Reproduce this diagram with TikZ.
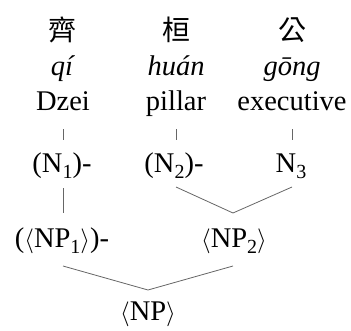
\documentclass[tikz,border=0pt]{standalone}
\usepackage{fontspec}
\setmainfont{Liberation Serif}
\newfontfamily\cjk{Noto Sans CJK TC}
\newcommand\mysub[1]{\raisebox{-0.22em}{\fontsize{20}{20}\selectfont #1}}
\begin{document}
\begin{tikzpicture}[x=1pt,y=-1pt,
  every node/.style={inner sep=0pt,font=\fontsize{28.5}{32}\selectfont},
  lab/.style={anchor=base},
  han/.style={font=\fontsize{28}{30}\selectfont\cjk},
  edge/.style={draw=black!60,line width=0.8pt}]
\useasboundingbox (0,0) rectangle (351,330);
% Chinese characters
\node[han] (c1) at (62,30) {齊};
\node[han] (c2) at (176,30) {桓};
\node[han] (c3) at (292,30) {公};
% pinyin
\node[lab] (p1) at (63,75) {\textit{qí}};
\node[lab] (p2) at (176,75) {\textit{huán}};
\node[lab] (p3) at (292,75) {\textit{gōng}};
% gloss
\node[lab] (g1) at (63,110) {Dzei};
\node[lab] (g2) at (176,110) {pillar};
\node[lab] (g3) at (292,110) {executive};
% N row
\node[lab] (n1) at (62,172) {(N\mysub{1})-};
\node[lab] (n2) at (174,172) {(N\mysub{2})-};
\node[lab] (n3) at (291,172) {N\mysub{3}};
% NP row
\node[lab] (np1) at (62,247) {($\langle$NP\mysub{1}$\rangle$)-};
\node[lab] (np2) at (234,247) {$\langle$NP\mysub{2}$\rangle$};
\node[lab] (np) at (148,320) {$\langle$NP$\rangle$};
% ticks
\coordinate (t1a) at (63,129); \coordinate (t1b) at (63,140);
\coordinate (t2a) at (176,129); \coordinate (t2b) at (176,140);
\coordinate (t3a) at (292,129); \coordinate (t3b) at (292,140);
\draw[edge] (t1a) -- (t1b);
\draw[edge] (t2a) -- (t2b);
\draw[edge] (t3a) -- (t3b);
% N1 -> NP1
\coordinate (a1) at (63,188); \coordinate (a2) at (63,213);
\draw[edge] (a1) -- (a2);
% N2, N3 -> NP2
\coordinate (b1) at (176,187); \coordinate (b2) at (233,213); \coordinate (b3) at (292,187);
\draw[edge] (b1) -- (b2) -- (b3);
% NP1, NP2 -> NP
\coordinate (d1) at (63,266); \coordinate (d2) at (148,290); \coordinate (d3) at (233,266);
\draw[edge] (d1) -- (d2) -- (d3);
\end{tikzpicture}
\end{document}
